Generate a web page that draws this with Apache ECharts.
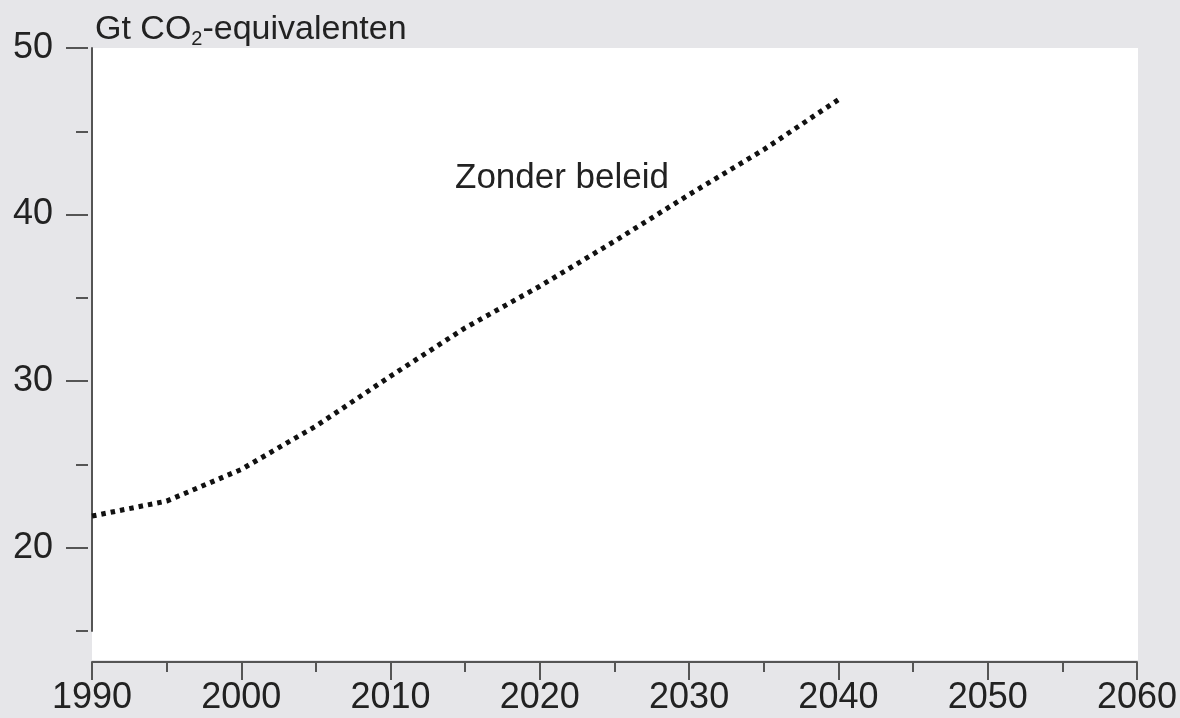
<!DOCTYPE html>
<html>
<head>
<meta charset="utf-8">
<script src="https://cdn.jsdelivr.net/npm/echarts@6/dist/echarts.min.js"></script>
<style>
html,body{margin:0;padding:0;background:#e6e6e9;}
#chart{width:1180px;height:718px;}
</style>
</head>
<body>
<div id="chart"></div>
<script>
// Data
var years = [1990, 1995, 2000, 2005, 2010, 2015, 2020, 2025, 2030, 2035, 2040];
var zonderBeleid = [21.9, 22.8, 24.7, 27.3, 30.3, 33.2, 35.7, 38.4, 41.2, 43.9, 46.9];
var yMajorTicks = [20, 30, 40, 50];
var yMinorTicks = [15, 25, 35, 45];
var xMajorTicks = [1990, 2000, 2010, 2020, 2030, 2040, 2050, 2060];
var xMinorTicks = [1995, 2005, 2015, 2025, 2035, 2045, 2055];
var unitLabel = 'Gt CO{sub|2}-equivalenten';
var seriesLabel = 'Zonder beleid';

var font = '"Liberation Sans", Arial, Helvetica, sans-serif';
var axisColor = '#555555';
var textColor = '#222222';

var chart = echarts.init(document.getElementById('chart'), null, {renderer: 'canvas'});
var seriesData = years.map(function (y, i) { return [y, zonderBeleid[i]]; });

var option = {
  backgroundColor: '#e6e6e9',
  animation: false,
  title: {
    text: unitLabel,
    left: 90,
    top: 6,
    textStyle: {
      fontFamily: font, fontSize: 34, fontWeight: 'normal', color: textColor,
      rich: {
        sub: {fontFamily: font, fontSize: 20, color: textColor, padding: [18, 0, 0, 0]}
      }
    }
  },
  graphic: [
    {
      type: 'rect', z: -10, silent: true,
      shape: {x: 92, y: 48, width: 1046, height: 612},
      style: {fill: '#ffffff'}
    },
    {
      type: 'text', z: 10, silent: true,
      left: 455, top: 161,
      style: {text: seriesLabel, font: '35px ' + font, fill: textColor}
    }
  ],
  grid: {left: 92, right: 42, top: 48, bottom: 87, containLabel: false},
  xAxis: [
    {
      type: 'value', min: 1990, max: 2060, interval: 10, position: 'bottom', offset: 31,
      axisLine: {show: true, lineStyle: {color: axisColor, width: 2}},
      axisTick: {show: true, length: 18, inside: false, customValues: xMajorTicks, lineStyle: {color: axisColor, width: 2}},
      axisLabel: {show: true, margin: 18, customValues: xMajorTicks, fontFamily: font, fontSize: 36, color: textColor,
        formatter: function (v) { return String(v); }},
      splitLine: {show: false}
    },
    {
      type: 'value', min: 1990, max: 2060, interval: 5, position: 'bottom', offset: 31,
      axisLine: {show: false},
      axisTick: {show: true, length: 10, customValues: xMinorTicks, lineStyle: {color: axisColor, width: 2}},
      axisLabel: {show: false},
      splitLine: {show: false}
    }
  ],
  yAxis: [
    {
      type: 'value', min: 15, max: 50, interval: 5, position: 'left',
      axisLine: {show: true, lineStyle: {color: axisColor, width: 2}},
      axisTick: {show: false},
      axisLabel: {show: true, margin: 39, customValues: yMajorTicks, fontFamily: font, fontSize: 36, color: textColor,
        formatter: function (v) { return String(v); }},
      splitLine: {show: false}
    },
    {
      type: 'value', min: 15, max: 50, interval: 5, position: 'left', offset: 4,
      axisLine: {show: false},
      axisTick: {show: true, length: 22, customValues: yMajorTicks, lineStyle: {color: axisColor, width: 2}},
      axisLabel: {show: false},
      splitLine: {show: false}
    },
    {
      type: 'value', min: 15, max: 50, interval: 5, position: 'left', offset: 4,
      axisLine: {show: false},
      axisTick: {show: true, length: 12, customValues: yMinorTicks, lineStyle: {color: axisColor, width: 2}},
      axisLabel: {show: false},
      splitLine: {show: false}
    }
  ],
  series: [
    {
      type: 'line',
      name: seriesLabel,
      xAxisIndex: 0, yAxisIndex: 0,
      data: seriesData,
      showSymbol: false,
      smooth: false,
      lineStyle: {color: '#111111', width: 5, type: [4.5, 5], cap: 'butt'},
      z: 5
    }
  ]
};
chart.setOption(option);
</script>
</body>
</html>
